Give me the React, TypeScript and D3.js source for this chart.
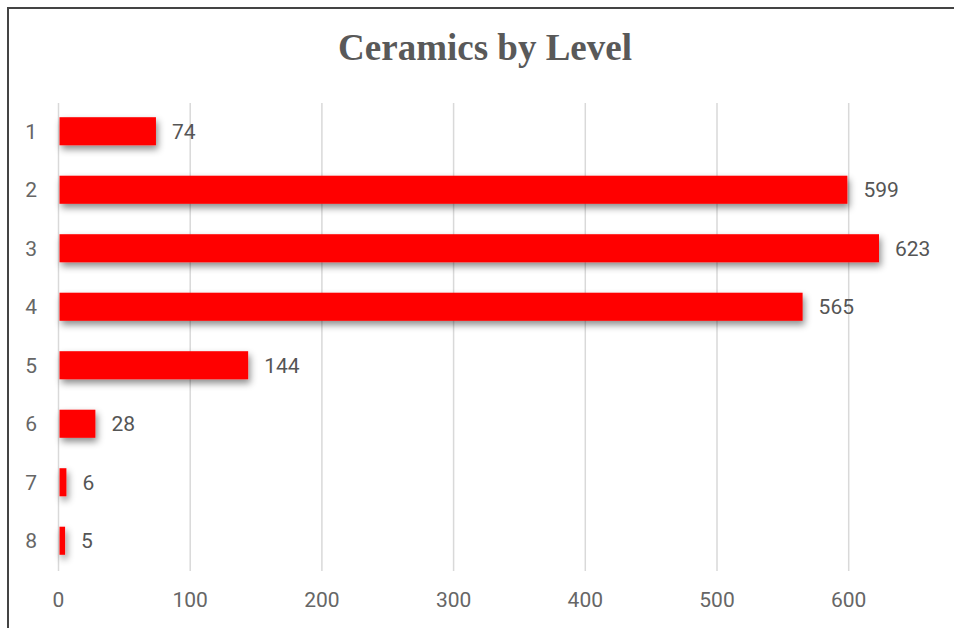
import * as d3 from 'd3';
import React, { useRef, useEffect } from 'react';

const levels = ['1', '2', '3', '4', '5', '6', '7', '8'];
const counts = [74, 599, 623, 565, 144, 28, 6, 5];
const xTicks = [0, 100, 200, 300, 400, 500, 600];

const W = 954;
const H = 628;

function BarChart() {
    const ref = useRef<SVGSVGElement>(null);

    useEffect(() => {
        const svg = d3.select(ref.current);
        svg.selectAll('*').remove();

        const data = levels.map((l, i) => ({ level: l, value: counts[i] }));

        const x = d3.scaleLinear().domain([0, 100]).range([58.5, 190.2]);
        const y = d3.scaleBand().domain(levels).range([102, 570]).paddingInner(0.52).paddingOuter(0.26);

        const defs = svg.append('defs');
        const f = defs.append('filter').attr('id', 'shadow')
            .attr('x', '-10%').attr('y', '-50%').attr('width', '130%').attr('height', '250%');
        f.append('feDropShadow')
            .attr('dx', 2).attr('dy', 4).attr('stdDeviation', 3.5)
            .attr('flood-color', '#000').attr('flood-opacity', 0.45);

        // frame
        svg.append('rect')
            .attr('x', 8).attr('y', 8).attr('width', W + 10).attr('height', H + 10)
            .attr('fill', 'white').attr('stroke', '#444').attr('stroke-width', 2);

        // title
        svg.append('text')
            .attr('x', 485).attr('y', 60)
            .attr('text-anchor', 'middle')
            .attr('font-family', '"Liberation Serif", "Times New Roman", serif')
            .attr('font-weight', 'bold')
            .attr('font-size', 37)
            .attr('fill', '#595959')
            .text('Ceramics by Level');

        // gridlines
        svg.append('g').selectAll('line')
            .data(xTicks)
            .enter().append('line')
            .attr('x1', d => x(d)).attr('x2', d => x(d))
            .attr('y1', 103).attr('y2', 571)
            .attr('stroke', '#d9d9d9').attr('stroke-width', 1.5);

        // x tick labels
        svg.append('g').selectAll('text')
            .data(xTicks)
            .enter().append('text')
            .attr('x', d => x(d)).attr('y', 600)
            .attr('dy', '0.35em')
            .attr('text-anchor', 'middle')
            .attr('font-family', 'Roboto, sans-serif')
            .attr('font-size', 21)
            .attr('fill', '#666')
            .text(d => d);

        // category labels
        svg.append('g').selectAll('text')
            .data(data)
            .enter().append('text')
            .attr('x', 37).attr('y', d => y(d.level)! + y.bandwidth() / 2)
            .attr('dy', '0.35em')
            .attr('text-anchor', 'end')
            .attr('font-family', 'Roboto, sans-serif')
            .attr('font-size', 21)
            .attr('fill', '#666')
            .text(d => d.level);

        // bars
        svg.append('g').attr('filter', 'url(#shadow)').selectAll('rect')
            .data(data)
            .enter().append('rect')
            .attr('x', x(0) + 1)
            .attr('y', d => y(d.level)!)
            .attr('width', d => x(d.value) - x(0) - 1)
            .attr('height', y.bandwidth())
            .attr('fill', '#ff0000');

        // value labels
        svg.append('g').selectAll('text')
            .data(data)
            .enter().append('text')
            .attr('x', d => x(d.value) + 16)
            .attr('y', d => y(d.level)! + y.bandwidth() / 2)
            .attr('dy', '0.35em')
            .attr('font-family', 'Roboto, sans-serif')
            .attr('font-size', 21)
            .attr('fill', '#555')
            .text(d => d.value);
    }, []);

    return (
        <svg ref={ref} width={W} height={H}
            style={{ position: 'absolute', left: 0, top: 0, display: 'block' }}>
        </svg>
    );
}

export default function App() {
    return <BarChart />;
}
